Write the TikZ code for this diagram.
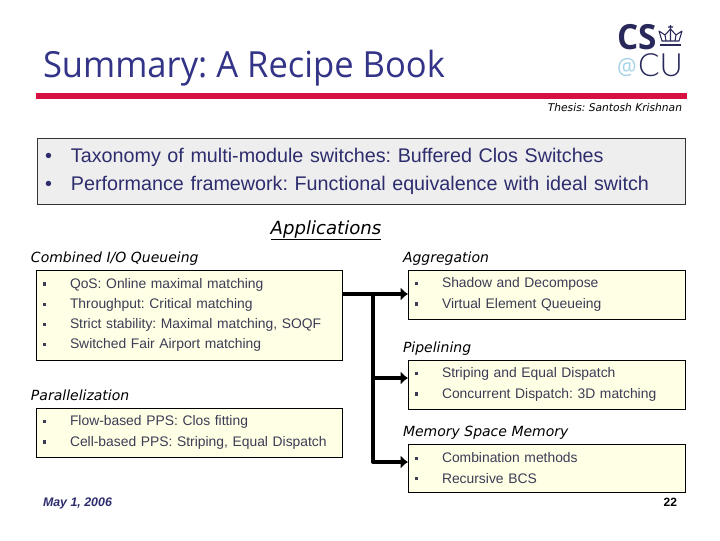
\documentclass[tikz,border=0pt]{standalone}
\usepackage{fontspec}
\setmainfont{Liberation Sans}
\newfontfamily\titlefont[FakeStretch=0.96]{Open Sans}
\newfontfamily\headfont{DejaVu Sans}
\newfontfamily\logofont{Lato Light}
\usepackage{xcolor}
\usetikzlibrary{positioning, arrows.meta, calc}
\definecolor{titleblue}{RGB}{51,51,136}
\definecolor{logoblue}{RGB}{40,40,90}
\definecolor{logosky}{RGB}{165,210,230}
\definecolor{rulered}{RGB}{214,16,64}
\definecolor{boxyellow}{RGB}{255,255,230}
\definecolor{boxgray}{RGB}{238,238,238}
\definecolor{textgray}{RGB}{60,60,85}
\definecolor{introblue}{RGB}{45,45,110}
\newcommand{\bulletline}[1]{\hspace*{5.5pt}\makebox[20pt][l]{\rule[2pt]{2.2pt}{2.4pt}}#1}
\frenchspacing

\begin{document}
\begin{tikzpicture}[
  x=0.75pt, y=-0.75pt,
  every node/.style={inner sep=0pt, outer sep=0pt},
  topicbox/.style={
    draw=black, line width=0.75pt, fill=boxyellow, anchor=north west,
    minimum width=229.5pt, text width=229.5pt,
    align=left, text=textgray, font=\fontsize{10.4}{15.2}\selectfont
  },
  rightbox/.style={
    topicbox, minimum width=207.75pt, text width=207.75pt
  },
  headlabel/.style={
    anchor=base west, text=black,
    font=\headfont\itshape\fontsize{10.5}{12}\selectfont
  },
  feed/.style={line width=2.5pt, line join=round, -{Latex[length=5.5pt,width=10pt]}},
]
\useasboundingbox (0,0) rectangle (720,540);

% Title and rule
\node[anchor=base west, text=titleblue, font=\titlefont\fontsize{27}{32}\selectfont] (title) at (43,77) {Summary: A Recipe Book};
\fill[rulered] (36,93) rectangle (687,99);
\node[anchor=base east, font=\headfont\itshape\fontsize{8}{10}\selectfont] (thesis) at (682,111) {Thesis: Santosh Krishnan};

% Logo
\node[anchor=base west, text=logoblue, font=\titlefont\bfseries\fontsize{26}{26}\selectfont] (logocs) at (617,49) {CS};
\node[anchor=base west, text=logosky, font=\titlefont\fontsize{17}{17}\selectfont] (logoat) at (617,74) {@};
\node[anchor=base west, text=logoblue, font=\logofont\fontsize{24}{24}\selectfont] (logocu) at (638,76) {CU};
\draw[logoblue, line width=0.8pt, line join=round] (662,41) -- (659,31) -- (665,35) -- (670.5,29) -- (676,35) -- (682,31) -- (679,41) -- cycle;
\draw[logoblue, line width=0.8pt] (670.5,25) -- (670.5,41) (668,27) -- (673,27) (665,35) -- (666,41) (676,35) -- (675,41);
\draw[logoblue, line width=1.3pt] (660,45) -- (681,45);

% Summary box
\node[draw=black!80, line width=0.75pt, fill=boxgray, anchor=north west, minimum width=486pt, minimum height=50pt, text width=474pt, align=left, font=\fontsize{14.8}{21.5}\selectfont, text=introblue] (intro) at (37,138) {%
  \makebox[19.5pt][l]{\textbullet}Taxonomy of multi-module switches: Buffered Clos Switches\\
  \makebox[19.5pt][l]{\textbullet}Performance framework: Functional equivalence with ideal switch\\[2pt]};

% Section heading
\node[anchor=base, font=\headfont\itshape\fontsize{13.6}{14}\selectfont] (apps) at (326,234) {\underline{Applications}};

% Left column
\node[headlabel] (cioqlabel) at (31,262) {Combined I/O Queueing};
\node[topicbox, minimum height=67.5pt] (cioq) at (36,270) {%
  \bulletline{QoS: Online maximal matching}\\
  \bulletline{Throughput: Critical matching}\\
  \bulletline{Strict stability: Maximal matching, SOQF}\\
  \bulletline{Switched Fair Airport matching}\\[1.5pt]};

\node[headlabel] (ppslabel) at (31,400) {Parallelization};
\node[topicbox, minimum height=36.75pt] (pps) at (36,408) {%
  \bulletline{Flow-based PPS: Clos fitting}\\
  \bulletline{Cell-based PPS: Striping, Equal Dispatch}\\[2pt]};

% Right column
\node[headlabel] (agglabel) at (403,262) {Aggregation};
\node[rightbox, minimum height=36.75pt] (agg) at (408,270) {%
  \bulletline{Shadow and Decompose}\\
  \bulletline{Virtual Element Queueing}\\[2pt]};

\node[headlabel] (pipelabel) at (403,352) {Pipelining};
\node[rightbox, minimum height=36.75pt] (pipe) at (408,360) {%
  \bulletline{Striping and Equal Dispatch}\\
  \bulletline{Concurrent Dispatch: 3D matching}\\[2pt]};

\node[headlabel] (msmlabel) at (403,436) {Memory Space Memory};
\node[rightbox, minimum height=36pt] (msm) at (408,444) {%
  \bulletline{Combination methods}\\
  \bulletline{Recursive BCS}\\[2pt]};

% Connectors
\coordinate (split) at (373,294);
\coordinate (pipein) at (373,378);
\coordinate (msmin) at (373,462);
\draw[feed] (cioq.east |- split) -- (agg.west |- split);
\draw[feed] (pipein) -- (pipe.west |- pipein);
\draw[feed] (split) -- (msmin) -- (msm.west |- msmin);

% Footer
\node[anchor=base west, font=\itshape\bfseries\fontsize{9.3}{10}\selectfont, text=introblue] (date) at (43,506) {May 1, 2006};
\node[anchor=base east, font=\bfseries\fontsize{9}{10}\selectfont] (page) at (677,506) {22};

\end{tikzpicture}
\end{document}
